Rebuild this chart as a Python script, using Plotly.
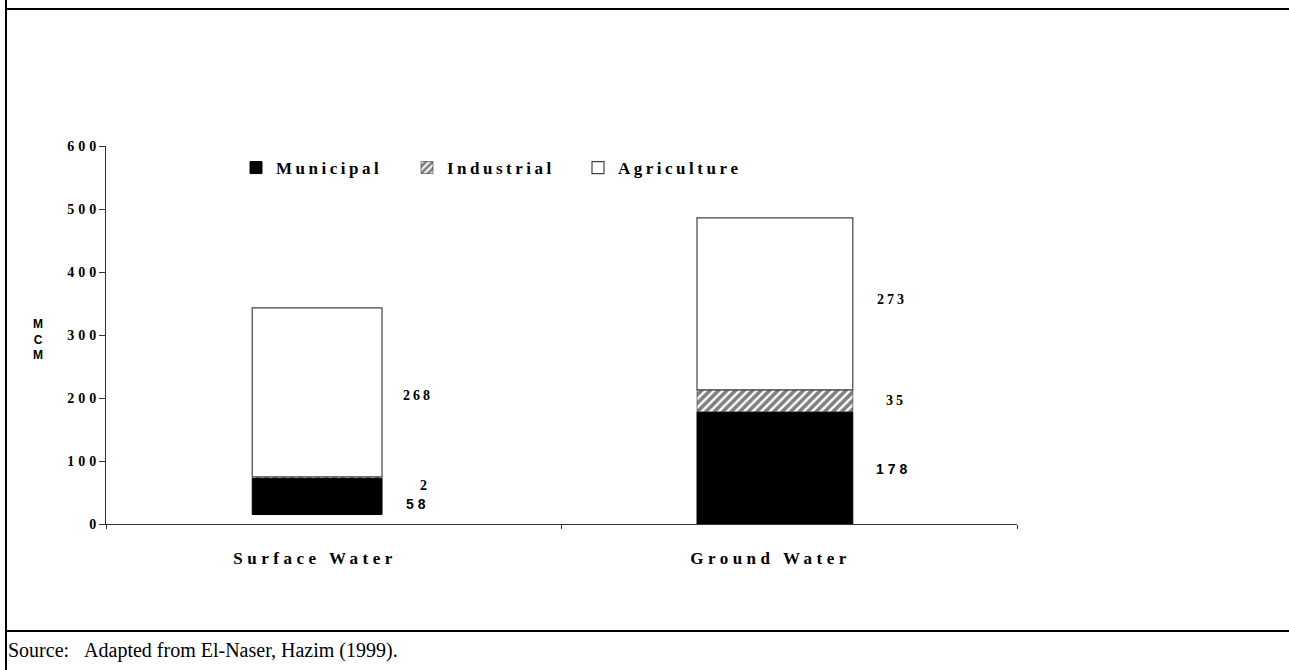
import plotly.graph_objects as go

# ---------------- data ----------------
categories = ["Surface Water", "Ground Water"]
series_names = ["Municipal", "Industrial", "Agriculture"]
municipal = [58, 178]
industrial = [2, 35]
agriculture = [268, 273]
bar_base = [15, 0]          # surface-water bar floats slightly above zero in the source
y_ticks = [0, 100, 200, 300, 400, 500, 600]
axis_title = "MCM"
source_text = "Source:   Adapted from El-Naser, Hazim (1999)."

# ---------------- layout constants ----------------
W, H = 1289, 670
L, R, T, B = 106, 272, 146, 146
PW = W - L - R
PH = H - T - B


def px_x(px):
    return (px - L) / PW


def px_y(py):
    return (H - B - py) / PH


SERIF = "Liberation Serif, Times New Roman, serif"
SANS = "Liberation Sans, Arial, sans-serif"


def spaced(t, sp):
    # letter spacing between characters only (no trailing gap)
    if len(t) < 2:
        return t
    return f'<span style="letter-spacing:{sp}px">{t[:-1]}</span>{t[-1]}'


bar_width = [0.285, 0.342]
bar_offset = [-0.179, -0.2025]

ind_base = [b + m for b, m in zip(bar_base, municipal)]
agr_base = [b + i for b, i in zip(ind_base, industrial)]

fig = go.Figure()
fig.add_trace(go.Bar(
    x=categories, y=municipal, base=bar_base, width=bar_width, offset=bar_offset,
    name=spaced(series_names[0], 3.5),
    marker=dict(color="black", line=dict(color="black", width=1)),
))
fig.add_trace(go.Bar(
    x=categories, y=industrial, base=ind_base, width=bar_width, offset=bar_offset,
    name=spaced(series_names[1], 3.5),
    marker=dict(color="white", line=dict(color="#333333", width=0.6),
                pattern=dict(shape="/", fgcolor="black", bgcolor="white", size=6, solidity=0.6)),
))
fig.add_trace(go.Bar(
    x=categories, y=agriculture, base=agr_base, width=bar_width, offset=bar_offset,
    name=spaced(series_names[2], 3.5),
    marker=dict(color="white", line=dict(color="#444444", width=1.2)),
))

# ---------------- value labels ----------------
label_font = {
    0: dict(family=SANS, size=14, color="black", weight="bold"),
    1: dict(family=SERIF, size=14, color="black", weight="bold"),
    2: dict(family=SERIF, size=14, color="black", weight="bold"),
}
label_xshift = {0: [82, 103], 1: [90, 105], 2: [83, 101]}
label_yshift = {0: [-8, -1], 1: [-8, 0], 2: [-3, 4]}
label_spacing = {0: 4, 1: 3, 2: 3}

annotations = []
for s, (vals, bases) in enumerate([(municipal, bar_base), (industrial, ind_base), (agriculture, agr_base)]):
    for c, cat in enumerate(categories):
        annotations.append(dict(
            x=cat, y=bases[c] + vals[c] / 2, xref="x", yref="y",
            text=spaced(str(vals[c]), label_spacing[s]), showarrow=False,
            xanchor="center", yanchor="middle",
            xshift=label_xshift[s][c], yshift=label_yshift[s][c],
            font=label_font[s],
        ))

annotations.append(dict(
    x=px_x(38), y=px_y(339), xref="paper", yref="paper",
    text="<br>".join(list(axis_title)), showarrow=False,
    xanchor="center", yanchor="middle",
    font=dict(family=SANS, size=12, color="black", weight="bold"),
))
annotations.append(dict(
    x=px_x(6), y=px_y(650), xref="paper", yref="paper",
    text=source_text.replace(" ", "&nbsp;"), showarrow=False,
    xanchor="left", yanchor="middle",
    font=dict(family=SERIF, size=20, color="black"),
))

# ---------------- frame lines ----------------
shapes = [
    dict(type="line", xref="paper", yref="paper", x0=px_x(5), x1=px_x(W), y0=px_y(9), y1=px_y(9),
         line=dict(color="black", width=2)),
    dict(type="line", xref="paper", yref="paper", x0=px_x(5), x1=px_x(W), y0=px_y(631), y1=px_y(631),
         line=dict(color="black", width=2)),
    dict(type="line", xref="paper", yref="paper", x0=px_x(6), x1=px_x(6), y0=px_y(H), y1=px_y(0),
         line=dict(color="black", width=2)),
]

fig.update_layout(
    width=W, height=H,
    margin=dict(l=L, r=R, t=T, b=B, autoexpand=False),
    paper_bgcolor="white", plot_bgcolor="white",
    barmode="overlay",
    showlegend=True,
    legend=dict(orientation="h", x=px_x(236), y=px_y(168), xanchor="left", yanchor="middle",
                entrywidth=126, entrywidthmode="pixels", traceorder="normal",
                font=dict(family=SERIF, size=17, color="black", weight="bold"),
                bgcolor="rgba(0,0,0,0)", borderwidth=0),
    xaxis=dict(type="category", range=[-0.5, 1.5], showline=True, linecolor="#333333", linewidth=1,
               ticks="outside", tickson="boundaries", ticklen=4, tickcolor="#333333",
               tickvals=categories, ticktext=[spaced(c, 4.5) for c in categories],
               tickfont=dict(family=SERIF, size=17, color="black", weight="bold"),
               ticklabelstandoff=19, ticklabelshift=-21,
               showgrid=False, zeroline=False, fixedrange=True),
    yaxis=dict(range=[0, 600], showline=True, linecolor="#333333", linewidth=1,
               ticks="outside", ticklen=6, tickcolor="#333333",
               tickvals=y_ticks, ticktext=[spaced(str(v), 4) for v in y_ticks],
               tickfont=dict(family=SERIF, size=14, color="black", weight="bold"),
               showgrid=False, zeroline=False, fixedrange=True),
    annotations=annotations,
    shapes=shapes,
    hovermode=False,
)

fig.write_html(
    "out.html",
    config={"displayModeBar": False, "staticPlot": True},
    post_script="document.body.style.margin='0';document.body.style.overflow='hidden';",
)
